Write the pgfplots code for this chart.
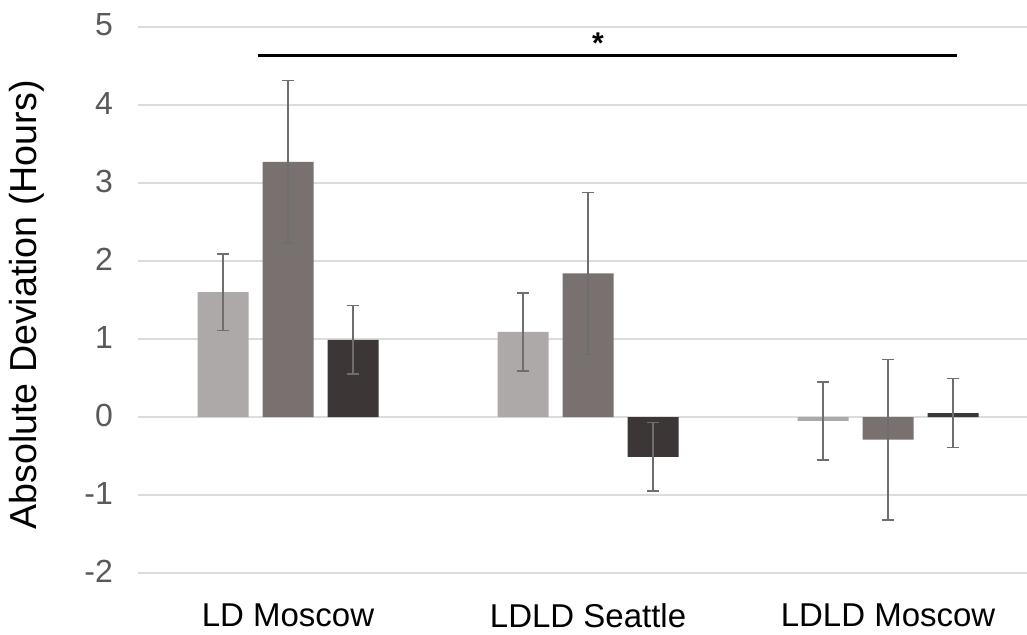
\documentclass[border=0pt]{standalone}
\usepackage{pgfplots}
\pgfplotsset{compat=1.18}
\usepackage{fontspec}
\setmainfont{Liberation Sans}
\definecolor{cLight}{HTML}{ADA9A8}
\definecolor{cMid}{HTML}{787170}
\definecolor{cDark}{HTML}{3C3736}
\definecolor{cTick}{HTML}{595959}
\definecolor{cGrid}{HTML}{DCDCDC}
\definecolor{cErr}{HTML}{6E6E6E}
\begin{document}
\begin{tikzpicture}
\useasboundingbox (0,0) rectangle (513.5pt,317pt);
\begin{axis}[
  at={(69pt,30.5pt)}, anchor=south west,
  scale only axis, width=444.5pt, height=273pt,
  xmin=-0.5, xmax=2.463, ymin=-2, ymax=5,
  ytick={-2,-1,0,1,2,3,4,5},
  xtick={0,1,2},
  xticklabels={LD Moscow, LDLD Seattle, LDLD Moscow},
  ymajorgrids, grid style={cGrid, line width=0.75pt},
  axis line style={draw=none},
  major tick length=0pt,
  /pgf/number format/assume math mode=true,
  yticklabel style={font=\fontsize{16}{18}\selectfont, text=cTick, xshift=-9pt, yshift=1pt},
  xticklabel style={font=\fontsize{16.5}{19}\selectfont, text=black, yshift=-12pt},
  ybar, bar width=25.5pt,
  error bars/y dir=both, error bars/y explicit,
  error bars/error bar style={cErr, line width=0.65pt},
  error bars/error mark options={cErr, rotate=90, mark size=3pt, line width=0.65pt},
]
\addplot[fill=cLight, draw=none, bar shift=-32.5pt] coordinates {
  (0,1.60) +- (0,0.49)
  (1,1.09) +- (0,0.50)
  (2,-0.05) +- (0,0.50)
};
\addplot[fill=cMid, draw=none, bar shift=0pt] coordinates {
  (0,3.27) +- (0,1.04)
  (1,1.84) +- (0,1.04)
  (2,-0.29) +- (0,1.03)
};
\addplot[fill=cDark, draw=none, bar shift=32.5pt] coordinates {
  (0,0.99) +- (0,0.44)
  (1,-0.51) +- (0,0.44)
  (2,0.05) +- (0,0.44)
};
\draw[black, line width=1.5pt] (axis cs:-0.1,4.64) -- (axis cs:2.23,4.64);
\node[font=\fontsize{15}{17}\selectfont\bfseries] at (axis cs:1.033,4.79) {*};
\end{axis}
\node[rotate=90, font=\fontsize{18.8}{22}\selectfont] at (13.5pt,164.5pt) {Absolute Deviation (Hours)};
\end{tikzpicture}
\end{document}
